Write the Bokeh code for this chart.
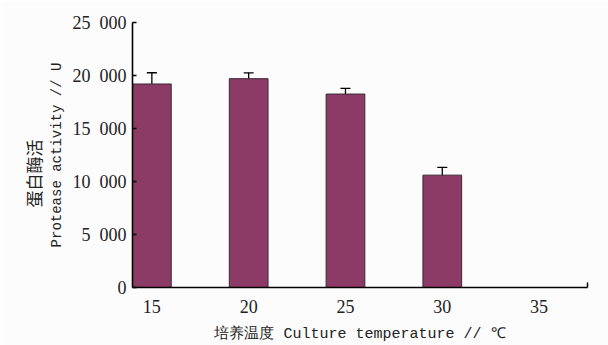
from bokeh.embed import file_html
from bokeh.models import ColumnDataSource, FixedTicker, Range1d, TeeHead, Title, Whisker
from bokeh.plotting import figure
from bokeh.resources import INLINE

# Protease activity at each culture temperature
temperatures = ["15", "20", "25", "30", "35"]
activity = [19200, 19700, 18250, 10600]
activity_err = [1060, 550, 530, 730]
y_ticks = [0, 5000, 10000, 15000, 20000, 25000]
y_tick_labels = ["0", "5\u2002000", "10\u2002000", "15\u2002000", "20\u2002000", "25\u2002000"]

BAR_COLOR = "#8C3A66"
BG = "#FCFCFC"
TEXT = "#222222"
SERIF = "Liberation Serif"
MONO = "Liberation Mono"
CJK = "Noto Sans CJK SC"

xs = list(range(len(activity)))
src = ColumnDataSource(dict(
    x=xs,
    top=activity,
    upper=[v + e for v, e in zip(activity, activity_err)],
    lower=[v - e for v, e in zip(activity, activity_err)],
))

p = figure(
    width=608, height=345,
    x_range=Range1d(-0.2, 4.5), y_range=Range1d(0, 25000),
    output_backend="svg", toolbar_location=None,
    min_border_left=132, min_border_right=21,
    min_border_top=22, min_border_bottom=58,
    background_fill_color=BG, border_fill_color=BG,
)
p.outline_line_color = None
p.grid.visible = False

p.vbar(x="x", top="top", width=0.4, bottom=0, source=src,
       fill_color=BAR_COLOR, line_color="#3a2a32", line_width=1)

p.add_layout(Whisker(
    base="x", upper="upper", lower="lower", source=src,
    line_color="black", line_width=1.3,
    upper_head=TeeHead(size=10, line_color="black", line_width=1.3),
    lower_head=TeeHead(size=10, line_color="black", line_width=1.3),
))

# y axis
ya = p.yaxis[0]
ya.ticker = FixedTicker(ticks=y_ticks)
ya.major_label_overrides = {t: s for t, s in zip(y_ticks, y_tick_labels)}
ya.major_tick_in = 4
ya.major_tick_out = 0
ya.minor_tick_line_color = None
ya.axis_line_width = 1.6
ya.major_tick_line_width = 1.5
ya.major_label_text_font = SERIF
ya.major_label_text_font_size = "18px"
ya.major_label_text_color = TEXT
ya.major_label_standoff = 6
ya.axis_label = "Protease activity // U"
ya.axis_label_text_font = MONO
ya.axis_label_text_font_size = "14px"
ya.axis_label_text_font_style = "normal"
ya.axis_label_text_color = TEXT
ya.axis_label_standoff = 5

# Chinese line of the y title, outside the axis label
p.add_layout(Title(text="蛋白酶活", align="left", offset=80, standoff=0,
                   text_font=CJK, text_font_size="17px",
                   text_font_style="normal", text_color=TEXT), "left")

# x axis
xa = p.xaxis[0]
xa.ticker = FixedTicker(ticks=list(range(len(temperatures))), minor_ticks=[4.5])
xa.major_label_overrides = {i: t for i, t in enumerate(temperatures)}
xa.major_tick_line_color = None
xa.minor_tick_in = 5
xa.minor_tick_out = 0
xa.minor_tick_line_width = 1.5
xa.axis_line_width = 1.6
xa.major_label_text_font = SERIF
xa.major_label_text_font_size = "18px"
xa.major_label_text_color = TEXT
xa.major_label_standoff = 6
xa.axis_label = "培养温度 Culture temperature // ℃"
xa.axis_label_text_font = MONO
xa.axis_label_text_font_size = "15px"
xa.axis_label_text_font_style = "normal"
xa.axis_label_text_color = TEXT
xa.axis_label_standoff = 10

open("out.html", "w").write(file_html(p, INLINE))
